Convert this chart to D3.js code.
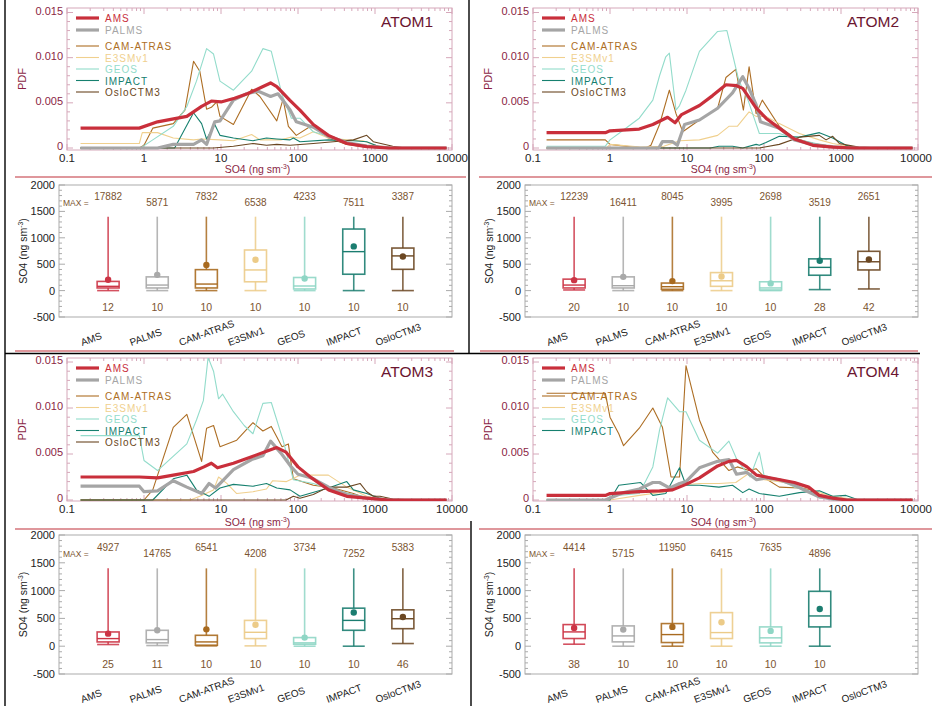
<!DOCTYPE html>
<html>
<head>
<meta charset="utf-8">
<script src="https://cdn.jsdelivr.net/npm/d3@7"></script>
<style>
  body { margin: 0; background: #fff; }
  svg { display: block; }
  text { font-family: "Liberation Sans", Arial, Helvetica, sans-serif; }
</style>
</head>
<body>
<svg id="fig" width="932" height="706"></svg>
<script>
// ---------------- data ----------------
const campaigns = ["ATOM1", "ATOM2", "ATOM3", "ATOM4"];
const seriesNames = ["AMS", "PALMS", "CAM-ATRAS", "E3SMv1", "GEOS", "IMPACT", "OsloCTM3"];
const pdfXTicks = [0.1, 1, 10, 100, 1000, 10000];
const pdfXTickLabels = ["0.1", "1", "10", "100", "1000", "10000"];
const pdfYTicks = [0, 0.005, 0.010, 0.015];
const pdfYTickLabels = ["0", "0.005", "0.010", "0.015"];
const boxYTicks = [-500, 0, 500, 1000, 1500, 2000];

// PDF curves: [SO4 (ng sm-3), PDF]
const atom1AMS = [[0.15,0.0022],[0.87,0.0022],[1.5,0.0029],[3.6,0.0035],[5.6,0.0046],[7.5,0.0052],[10,0.0051],[15,0.0055],[22,0.006],[33,0.0067],[44,0.0072],[53,0.0068],[78,0.0053],[106,0.0042],[158,0.0026],[248,0.0014],[430,0.0005],[780,0.00015],[1500,0],[8500,0]];
const atom1PALMS = [[0.15,0],[1.5,0],[2.4,0.0004],[4.4,0.0004],[5.6,0.0009],[6.5,0.0004],[8.3,0.0029],[9.7,0.003],[14.5,0.0053],[21.5,0.006],[30,0.0063],[44,0.0057],[55,0.006],[79,0.0042],[95,0.0029],[158,0.0023],[248,0.0013],[430,0.0006],[780,0.0002],[1700,0],[8500,0]];
const atom1CAM = [[0.15,0],[0.87,0],[1,0.0003],[1.3,0.0022],[2.4,0.0027],[3.4,0.0042],[4.4,0.0096],[5.3,0.0085],[6.5,0.0043],[7.5,0.0045],[8.8,0.0051],[9.7,0.0035],[14.5,0.0026],[25,0.0065],[32,0.0057],[53,0.003],[64,0.0054],[75,0.0024],[95,0.0014],[158,0.0026],[248,0.0011],[430,0.0004],[780,0.0001],[1700,0],[8500,0]];
const atom1E3SM = [[0.15,0.0005],[0.87,0.0005],[0.95,0.0017],[1.5,0.0017],[2.4,0.0011],[4.4,0.0009],[5.6,0.001],[9.7,0.0009],[14.5,0.0008],[25,0.0015],[32,0.0009],[60,0.0009],[80,0.0012],[106,0.0011],[158,0.0018],[248,0.0011],[430,0.0009],[700,0.0008],[1000,0.0003],[1700,0],[8500,0]];
const atom1GEOS = [[0.15,0],[0.9,0],[1.3,0.0009],[2.4,0.0024],[3.6,0.0046],[4.8,0.0074],[6.5,0.011],[8,0.0104],[9.7,0.0074],[14.5,0.0064],[25,0.0085],[35,0.011],[45,0.0107],[62,0.0059],[82,0.0033],[106,0.0033],[158,0.0018],[248,0.0013],[430,0.0006],[780,0.0003],[1700,0],[8500,0]];
const atom1IMPACT = [[0.15,0],[2.5,0],[4.4,0.0039],[5.6,0.0027],[6.5,0.001],[8.3,0.0026],[9.7,0.0014],[14.5,0.0011],[26,0.0008],[39,0.0011],[53,0.001],[79,0.0009],[87,0.0011],[106,0.0007],[248,0.0009],[524,0.0008],[780,0.0007],[1160,0.0001],[1700,0],[8500,0]];
const atom1Oslo = [[0.15,0],[8,0],[14.5,0.0002],[26,0.0005],[39,0.0003],[53,0.0004],[79,0.0003],[158,0.0005],[288,0.0007],[524,0.0009],[780,0.0014],[950,0.0007],[1700,0.0002],[2500,0],[8500,0]];

const atom2AMS = [[0.15,0.0017],[0.87,0.0017],[1,0.0019],[2.4,0.0021],[3.6,0.0026],[5.6,0.0034],[7,0.0028],[8.5,0.0037],[14.5,0.0047],[21.5,0.0058],[32,0.007],[44,0.0069],[53,0.0066],[78,0.0045],[106,0.0033],[158,0.0022],[248,0.001],[430,0.0003],[780,0.0001],[1500,0],[8500,0]];
const atom2PALMS = [[0.15,0],[4.3,0],[4.8,0.0007],[6.5,0.0007],[7.5,0.0003],[9.3,0.0026],[14.5,0.0031],[25,0.0044],[39,0.0061],[53,0.0079],[63,0.0067],[79,0.0048],[90,0.0029],[158,0.0022],[248,0.0009],[430,0.0004],[640,0.0002],[1200,0],[8500,0]];
const atom2CAM = [[0.15,0.0009],[0.87,0.0009],[1,0.0004],[2,0.0001],[2.9,0],[3.4,0.0003],[4.4,0.0026],[5.9,0.0064],[7.2,0.0038],[8.8,0.0018],[14.5,0.0031],[25,0.0044],[32,0.0078],[43,0.0087],[54,0.0042],[64,0.009],[79,0.0038],[95,0.0053],[158,0.0024],[248,0.0011],[430,0.0005],[780,0.0001],[1500,0],[8500,0]];
const atom2E3SM = [[0.15,0],[0.9,0],[1,0.0004],[2.5,0.0001],[5,0.0002],[8,0.0008],[14.5,0.0009],[25,0.0014],[35,0.0024],[45,0.0024],[64,0.004],[79,0.0035],[106,0.0035],[158,0.0027],[288,0.0016],[524,0.0009],[780,0.0005],[1700,0],[8500,0]];
const atom2GEOS = [[0.15,0.0002],[0.87,0.0002],[1,0.0009],[1.3,0.0016],[2.4,0.0033],[3.6,0.0053],[4.4,0.008],[5.3,0.0101],[5.9,0.0105],[7.2,0.0042],[8,0.0047],[9.7,0.0064],[14.5,0.0107],[25,0.0129],[33,0.013],[47,0.0075],[62,0.0053],[87,0.0016],[158,0.0016],[288,0.0009],[524,0.0004],[780,0.0002],[1700,0],[8500,0]];
const atom2IMPACT = [[0.15,0],[20,0],[26,0.0002],[39,0.0002],[53,0],[79,0.0004],[87,0.0003],[106,0.0006],[158,0.0013],[288,0.0012],[524,0.0017],[780,0.0011],[1160,0.0003],[1700,0],[8500,0]];
const atom2Oslo = [[0.15,0],[87,0],[158,0.0004],[288,0.0012],[524,0.0014],[640,0.0009],[780,0.0013],[950,0.0005],[1700,0.0001],[3500,0],[8500,0]];

const atom3AMS = [[0.15,0.0025],[0.87,0.0025],[1.5,0.0024],[2.4,0.0027],[4.4,0.0031],[6,0.0036],[7.5,0.004],[9,0.0035],[14.5,0.004],[25,0.0047],[39,0.0053],[53,0.0057],[70,0.0052],[100,0.0036],[150,0.0024],[250,0.0011],[430,0.0004],[780,0.0002],[1500,0],[8500,0]];
const atom3PALMS = [[0.15,0.0015],[0.87,0.0015],[1,0.0009],[1.5,0.001],[2.4,0.0021],[3.6,0.0014],[5.6,0.0007],[7,0.0018],[8.5,0.0013],[14.5,0.0033],[25,0.0044],[35,0.0048],[44,0.0064],[60,0.0051],[80,0.0037],[100,0.0028],[150,0.0024],[250,0.0014],[430,0.0006],[780,0.0002],[1500,0],[8500,0]];
const atom3CAM = [[0.15,0],[1,0],[1.3,0.0011],[2.4,0.0079],[3.6,0.0093],[5.6,0.0042],[6.5,0.0078],[8,0.0081],[9.7,0.0058],[16,0.0065],[26,0.0084],[35,0.0075],[45,0.008],[62,0.0058],[75,0.0061],[87,0.0023],[158,0.0016],[288,0.0013],[524,0.0007],[780,0.0002],[1700,0],[8500,0]];
const atom3E3SM = [[0.15,0],[4,0],[5.3,0.0004],[8,0.0011],[9.3,0.0025],[11.9,0.0018],[16,0.0007],[26,0.0009],[39,0.0012],[47,0.0021],[71,0.002],[106,0.0027],[248,0.0027],[430,0.0014],[780,0.0004],[1160,0.0001],[1700,0],[8500,0]];
const atom3GEOS = [[0.15,0.007],[0.87,0.007],[1,0.0043],[1.5,0.0032],[3.6,0.0061],[4.8,0.0087],[5.9,0.0108],[6.8,0.0155],[8,0.014],[9.3,0.011],[10.5,0.0115],[14.5,0.0096],[20,0.0081],[26,0.0072],[35,0.0105],[45,0.0106],[64,0.0065],[87,0.0022],[158,0.0018],[288,0.0011],[524,0.0006],[780,0.0003],[1700,0],[8500,0]];
const atom3IMPACT = [[0.15,0],[1.3,0],[2.4,0.0023],[3.6,0.0027],[4.8,0.0011],[7,0.0004],[9.7,0.0013],[14.5,0.0017],[26,0.0015],[39,0.0018],[53,0.0013],[79,0.0011],[106,0.0004],[248,0.0013],[430,0.002],[524,0.0011],[780,0.0007],[1160,0.0002],[1700,0],[8500,0]];
const atom3Oslo = [[0.15,0],[70,0],[87,0.0004],[106,0.0002],[158,0.0006],[248,0.0014],[430,0.0014],[640,0.0018],[780,0.0009],[950,0.0004],[1160,0.0004],[1700,0.0001],[3500,0],[8500,0]];

const atom4AMS = [[0.15,0.0005],[0.87,0.0005],[1,0.0007],[2.4,0.0009],[4.4,0.001],[6.5,0.0011],[9.7,0.0017],[14.5,0.0024],[25,0.0037],[35,0.0042],[44,0.0043],[60,0.0036],[80,0.0027],[106,0.0025],[248,0.0019],[380,0.0014],[524,0.0005],[780,0.0002],[1200,0],[8500,0]];
const atom4PALMS = [[0.15,0],[0.87,0],[1.5,0.0008],[2.4,0.0012],[3.6,0.0019],[4.4,0.0019],[6,0.0013],[8,0.0018],[9.7,0.002],[14.5,0.0035],[25,0.0042],[35,0.0044],[44,0.0028],[60,0.003],[80,0.0022],[106,0.0024],[158,0.0022],[250,0.0016],[350,0.001],[500,0.0004],[780,0.0001],[1200,0],[8500,0]];
const atom4CAM = [[0.15,0.0116],[0.87,0.0116],[1,0.009],[1.3,0.0072],[1.5,0.0059],[2.4,0.0078],[3.6,0.01],[4.8,0.0079],[6.2,0.0025],[8,0.0025],[9.7,0.0146],[14.5,0.0087],[21.5,0.0052],[35,0.0032],[45,0.0036],[64,0.0032],[79,0.0034],[106,0.0023],[158,0.0014],[288,0.0013],[430,0.0011],[524,0.0004],[780,0.0001],[1700,0],[8500,0]];
const atom4E3SM = [[0.15,0],[1,0],[2.4,0.0005],[5.3,0.0009],[8,0.0016],[14.5,0.0018],[26,0.0018],[43,0.0019],[64,0.0029],[79,0.0023],[158,0.002],[288,0.0016],[524,0.0008],[780,0.0004],[1700,0],[8500,0]];
const atom4GEOS = [[0.15,0],[0.87,0],[1,0.0004],[2.4,0.0007],[3.6,0.0036],[4.4,0.0076],[5.6,0.0111],[8,0.0096],[9.7,0.0096],[14.5,0.0065],[25,0.0051],[35,0.0064],[45,0.0043],[66,0.0025],[87,0.0052],[100,0.0027],[158,0.0022],[248,0.0014],[430,0.0009],[524,0.0002],[1700,0],[8500,0]];
const atom4IMPACT = [[0.15,0],[1,0],[1.3,0.0016],[2.5,0.0019],[3.6,0.0005],[5.3,0.0007],[8,0.0035],[9.7,0.0016],[14.5,0.0016],[26,0.0014],[39,0.0016],[53,0.0008],[64,0.0012],[87,0.0007],[158,0.0004],[288,0.0008],[524,0.001],[780,0.0004],[1160,0.0005],[1700,0],[8500,0]];

// Box statistics (ng sm-3), in seriesNames order; null = no data
const atom1Min = [0, 0, 0, 0, 0, 0, 0];
const atom1Q1 = [50, 50, 50, 167, 31, 310, 403];
const atom1Median = [81, 105, 124, 391, 87, 738, 657];
const atom1Q3 = [174, 260, 397, 769, 248, 1166, 806];
const atom1Mean = [205, 298, 484, 583, 229, 837, 645];
const atom1Max = [17882, 5871, 7832, 6538, 4233, 7511, 3387];
const atom1N = [12, 10, 10, 10, 10, 10, 10];

const atom2Min = [12, 0, 0, 0, 0, 19, 31];
const atom2Q1 = [50, 50, 25, 81, 12, 291, 391];
const atom2Median = [105, 93, 74, 186, 50, 440, 546];
const atom2Q3 = [217, 260, 143, 341, 167, 601, 744];
const atom2Mean = [198, 260, 180, 267, 136, 564, 589];
const atom2Max = [12239, 16411, 8045, 3995, 2698, 3519, 2651];
const atom2N = [20, 10, 10, 10, 10, 28, 42];

const atom3Min = [30, 12, 6, 6, 0, 0, 48];
const atom3Q1 = [77, 60, 18, 137, 36, 286, 315];
const atom3Median = [137, 119, 77, 250, 60, 464, 494];
const atom3Q3 = [256, 286, 196, 464, 155, 684, 654];
const atom3Mean = [226, 286, 303, 387, 155, 607, 524];
const atom3Max = [4927, 14765, 6541, 4208, 3734, 7252, 5383];
const atom3N = [25, 11, 10, 10, 10, 10, 46];

const atom4Min = [36, 0, 0, 0, 0, 0, null];
const atom4Q1 = [138, 78, 66, 138, 60, 347, null];
const atom4Median = [257, 185, 209, 245, 150, 544, null];
const atom4Q3 = [389, 365, 407, 604, 347, 987, null];
const atom4Mean = [329, 299, 347, 431, 275, 670, null];
const atom4Max = [4414, 5715, 11950, 6415, 7635, 4896, null];
const atom4N = [38, 10, 10, 10, 10, 10, null];

// whiskers are drawn up to this level; the true maximum is printed above
const WHISKER_CAP = 1400;

// ---------------- styling ----------------
const seriesColors = ["#c92f3b", "#a5a5a5", "#ad6e24", "#f0d08e", "#93dccb", "#16806f", "#6a4621"];
const boxColors    = ["#cc3445", "#a9a9a9", "#a86a1f", "#eccb88", "#8fd6c5", "#1b7d70", "#6b4722"];
const seriesWidths = [3.2, 3.2, 1.1, 1.1, 1.1, 1.1, 1.1];
const MAROON = "#8b1f45";
const TITLE = "#6b1530";
const BROWN = "#7b5430";
const INK = "#222";

const curvesBy = {
  ATOM1: [atom1AMS, atom1PALMS, atom1CAM, atom1E3SM, atom1GEOS, atom1IMPACT, atom1Oslo],
  ATOM2: [atom2AMS, atom2PALMS, atom2CAM, atom2E3SM, atom2GEOS, atom2IMPACT, atom2Oslo],
  ATOM3: [atom3AMS, atom3PALMS, atom3CAM, atom3E3SM, atom3GEOS, atom3IMPACT, atom3Oslo],
  ATOM4: [atom4AMS, atom4PALMS, atom4CAM, atom4E3SM, atom4GEOS, atom4IMPACT, null]
};
const statsBy = {
  ATOM1: {min: atom1Min, q1: atom1Q1, med: atom1Median, q3: atom1Q3, mean: atom1Mean, max: atom1Max, n: atom1N},
  ATOM2: {min: atom2Min, q1: atom2Q1, med: atom2Median, q3: atom2Q3, mean: atom2Mean, max: atom2Max, n: atom2N},
  ATOM3: {min: atom3Min, q1: atom3Q1, med: atom3Median, q3: atom3Q3, mean: atom3Mean, max: atom3Max, n: atom3N},
  ATOM4: {min: atom4Min, q1: atom4Q1, med: atom4Median, q3: atom4Q3, mean: atom4Mean, max: atom4Max, n: atom4N}
};

// row geometry (pixels)
const rows = [
  {pdfTop: 8, pdfBottom: 150, y0: 148, yMax: 12.5, xTickBase: 162, xTitleBase: 173,
   boxTop: 185, boxBottom: 317, catY: 346},
  {pdfTop: 358, pdfBottom: 501, y0: 500, yMax: 362, xTickBase: 513, xTitleBase: 526,
   boxTop: 535, boxBottom: 674, catY: 703}
];
const colOffset = [0, 466];

const svg = d3.select("#fig");

// ---------------- figure separators ----------------
const sep = svg.append("g");
function hline(y, x1, x2, color, w) {
  sep.append("line").attr("x1", x1).attr("x2", x2).attr("y1", y).attr("y2", y)
    .attr("stroke", color).attr("stroke-width", w);
}
function vline(x, y1, y2, color, w) {
  sep.append("line").attr("x1", x).attr("x2", x).attr("y1", y1).attr("y2", y2)
    .attr("stroke", color).attr("stroke-width", w);
}
hline(177, 15, 466, "#c0303a", 1.2);
hline(177, 479, 932, "#c0303a", 1.2);
hline(351, 15, 454, "#c0303a", 1.2);
hline(351, 480, 918, "#c0303a", 1.2);
hline(529, 15, 470, "#c0303a", 1.2);
hline(529, 479, 932, "#c0303a", 1.2);
hline(353.5, 5, 920, "#000", 1.4);
vline(5, 0, 706, "#000", 1.4);
vline(469, 0, 353.5, "#000", 1.4);
vline(471, 521, 706, "#000", 1.4);

// superscript label "SO4 (ng sm-3)"
function so4Label(sel, size) {
  sel.append("tspan").text("SO4 (ng sm");
  sel.append("tspan").text("-3").attr("font-size", size * 0.65).attr("dy", -size * 0.4);
  sel.append("tspan").text(")").attr("dy", size * 0.4);
}

// ---------------- panels ----------------
campaigns.forEach((camp, ci) => {
  const row = rows[Math.floor(ci / 2)];
  const ox = colOffset[ci % 2];
  const g = svg.append("g");

  // ===== PDF panel =====
  const pl = 67 + ox, pr = 452 + ox;
  const x = d3.scaleLog().domain([0.1, 10000]).range([pl, pr]);
  const y = d3.scaleLinear().domain([0, 0.015]).range([row.y0, row.yMax]);

  const clipId = "clip" + ci;
  g.append("clipPath").attr("id", clipId).append("rect")
    .attr("x", pl).attr("y", row.pdfTop).attr("width", pr - pl).attr("height", row.pdfBottom - row.pdfTop);

  const frameCol = "#d6a8ba";
  // y ticks (both sides)
  d3.range(0, 16).forEach(k => {
    const v = k * 0.001, yy = y(v);
    const len = k % 5 === 0 ? 6 : 3;
    g.append("line").attr("x1", pl).attr("x2", pl + len).attr("y1", yy).attr("y2", yy).attr("stroke", frameCol);
    g.append("line").attr("x1", pr).attr("x2", pr - len).attr("y1", yy).attr("y2", yy).attr("stroke", frameCol);
  });
  // x ticks (top and bottom)
  pdfXTicks.forEach((t, k) => {
    const xx = x(t);
    g.append("line").attr("x1", xx).attr("x2", xx).attr("y1", row.pdfBottom).attr("y2", row.pdfBottom - 6).attr("stroke", frameCol);
    g.append("line").attr("x1", xx).attr("x2", xx).attr("y1", row.pdfTop).attr("y2", row.pdfTop + 6).attr("stroke", frameCol);
    if (k < pdfXTicks.length - 1) {
      d3.range(2, 10).forEach(m => {
        const xm = x(t * m);
        g.append("line").attr("x1", xm).attr("x2", xm).attr("y1", row.pdfBottom).attr("y2", row.pdfBottom - 3).attr("stroke", frameCol);
        g.append("line").attr("x1", xm).attr("x2", xm).attr("y1", row.pdfTop).attr("y2", row.pdfTop + 3).attr("stroke", frameCol);
      });
    }
  });
  g.append("rect").attr("x", pl).attr("y", row.pdfTop).attr("width", pr - pl)
    .attr("height", row.pdfBottom - row.pdfTop).attr("fill", "none").attr("stroke", frameCol);

  // tick labels
  pdfYTicks.forEach((t, k) => {
    g.append("text").attr("x", pl - 4).attr("y", y(t) + 2).attr("text-anchor", "end")
      .attr("font-size", 11).attr("fill", MAROON).text(pdfYTickLabels[k]);
  });
  pdfXTicks.forEach((t, k) => {
    const last = k === pdfXTicks.length - 1;
    g.append("text").attr("x", last && ox > 0 ? x(t) - 2 : x(t)).attr("y", row.xTickBase).attr("text-anchor", "middle")
      .attr("font-size", 11.5).attr("fill", INK).text(pdfXTickLabels[k]);
  });
  g.append("text").attr("transform", `translate(${ox + 26},${(row.pdfTop + row.pdfBottom) / 2}) rotate(-90)`)
    .attr("text-anchor", "middle").attr("font-size", 11).attr("fill", MAROON).text("PDF");
  g.append("text").attr("x", (pl + pr) / 2 - 2).attr("y", row.xTitleBase).attr("text-anchor", "middle")
    .attr("font-size", 10.5).attr("fill", MAROON).call(s => so4Label(s, 10.5));

  // curves: models first, then PALMS, then AMS on top
  const line = d3.line().x(d => x(d[0])).y(d => y(d[1]));
  const curves = curvesBy[camp];
  const lg = g.append("g").attr("clip-path", `url(#${clipId})`);
  [2, 3, 4, 5, 6, 1, 0].forEach(i => {
    if (!curves[i]) return;
    lg.append("path").datum(curves[i]).attr("d", line).attr("fill", "none")
      .attr("stroke", seriesColors[i]).attr("stroke-width", seriesWidths[i])
      .attr("stroke-linejoin", "round");
  });

  // legend
  const legendOffsets = [10, 22, 38, 49.5, 61, 72.5, 84];
  seriesNames.forEach((name, i) => {
    if (!curves[i]) return;
    const ly = row.pdfTop + legendOffsets[i];
    g.append("line").attr("x1", pl + 9).attr("x2", pl + 32).attr("y1", ly).attr("y2", ly)
      .attr("stroke", seriesColors[i]).attr("stroke-width", seriesWidths[i]);
    g.append("text").attr("x", pl + 38).attr("y", ly + 4).attr("font-size", 10)
      .attr("letter-spacing", 1).attr("fill", seriesColors[i]).text(name);
  });
  g.append("text").attr("x", pr - 19).attr("y", row.pdfTop + 19).attr("text-anchor", "end")
    .attr("font-size", 15.5).attr("fill", TITLE).text(camp);

  // ===== Box panel =====
  const bl = 59 + ox, br = 452 + ox;
  const bx = d3.scaleLinear().domain([0, seriesNames.length + 1]).range([bl, br]);
  const by = d3.scaleLinear().domain([-500, 2000]).range([row.boxBottom, row.boxTop]);
  const boxFrame = "#ababab";

  d3.range(-500, 2001, 100).forEach(v => {
    const yy = by(v), len = v % 500 === 0 ? 6 : 3;
    g.append("line").attr("x1", bl).attr("x2", bl + len).attr("y1", yy).attr("y2", yy).attr("stroke", boxFrame);
    g.append("line").attr("x1", br).attr("x2", br - len).attr("y1", yy).attr("y2", yy).attr("stroke", boxFrame);
  });
  g.append("rect").attr("x", bl).attr("y", row.boxTop).attr("width", br - bl)
    .attr("height", row.boxBottom - row.boxTop).attr("fill", "none").attr("stroke", boxFrame);
  boxYTicks.forEach(t => {
    g.append("text").attr("x", bl - 4).attr("y", by(t) + 4).attr("text-anchor", "end")
      .attr("font-size", 11).attr("fill", INK).text(t);
  });
  g.append("text").attr("transform", `translate(${ox + 27},${(row.boxTop + row.boxBottom) / 2}) rotate(-90)`)
    .attr("text-anchor", "middle").attr("font-size", 10.5).attr("fill", INK).call(s => so4Label(s, 10.5));

  const st = statsBy[camp];
  const hw = 11;
  g.append("text").attr("x", bl + 4).attr("y", by(1610)).attr("font-size", 8.5)
    .attr("fill", BROWN).text("MAX =");
  seriesNames.forEach((name, i) => {
    const cx = bx(i + 1);
    // category label
    g.append("text").attr("transform", `translate(${cx - 26},${row.catY}) rotate(-20)`)
      .attr("font-size", 10).attr("fill", INK).text(name);
    if (st.q1[i] == null) return;
    const c = boxColors[i];
    const top = Math.min(st.max[i], WHISKER_CAP);
    g.append("line").attr("x1", cx).attr("x2", cx).attr("y1", by(st.min[i])).attr("y2", by(top))
      .attr("stroke", c).attr("stroke-width", 1.6).attr("stroke-opacity", 0.85);
    g.append("line").attr("x1", cx - hw).attr("x2", cx + hw).attr("y1", by(st.min[i])).attr("y2", by(st.min[i]))
      .attr("stroke", c).attr("stroke-width", 1.6).attr("stroke-opacity", 0.85);
    g.append("rect").attr("x", cx - hw).attr("y", by(st.q3[i])).attr("width", 2 * hw)
      .attr("height", by(st.q1[i]) - by(st.q3[i])).attr("fill", "#fff")
      .attr("stroke", c).attr("stroke-width", 1.6).attr("stroke-opacity", 0.9);
    g.append("line").attr("x1", cx - hw).attr("x2", cx + hw).attr("y1", by(st.med[i])).attr("y2", by(st.med[i]))
      .attr("stroke", c).attr("stroke-width", 1.4);
    g.append("circle").attr("cx", cx).attr("cy", by(st.mean[i])).attr("r", 3.2).attr("fill", c);
    // max and count labels
    g.append("text").attr("x", cx).attr("y", by(i % 2 === 0 ? 1715 : 1610)).attr("text-anchor", "middle")
      .attr("font-size", 10).attr("fill", BROWN).text(st.max[i]);
    g.append("text").attr("x", cx).attr("y", by(-390)).attr("text-anchor", "middle")
      .attr("font-size", 10.5).attr("fill", BROWN).text(st.n[i]);
  });
});
</script>
</body>
</html>
